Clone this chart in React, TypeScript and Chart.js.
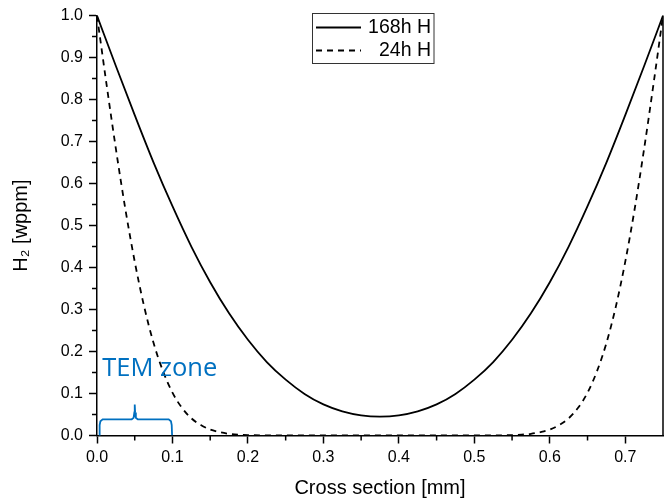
import React, { useEffect, useRef } from 'react';
import { Chart, registerables } from 'chart.js';

Chart.register(...registerables);

// ---- Data ----
const seriesLabels = ['168h H', '24h H'];

const solidX = [0, 0.025, 0.05, 0.075, 0.1, 0.125, 0.15, 0.175, 0.2, 0.225, 0.25, 0.275, 0.3, 0.325, 0.35, 0.375,
  0.4, 0.425, 0.45, 0.475, 0.5, 0.525, 0.55, 0.575, 0.6, 0.625, 0.65, 0.675, 0.7, 0.725, 0.75];
const solidY = [1.0, 0.880, 0.763, 0.650, 0.546, 0.450, 0.365, 0.291, 0.228, 0.175, 0.133, 0.099, 0.074, 0.0575, 0.048, 0.045,
  0.048, 0.0575, 0.074, 0.099, 0.133, 0.175, 0.228, 0.291, 0.365, 0.450, 0.546, 0.650, 0.763, 0.880, 1.0];

const dashX = [0, 0.0125, 0.025, 0.0375, 0.05, 0.0625, 0.075, 0.0875, 0.1, 0.1125, 0.125, 0.1375, 0.15, 0.1625, 0.175, 0.1875,
  0.2, 0.225, 0.25, 0.3, 0.375, 0.45, 0.5, 0.525, 0.55, 0.5625, 0.575, 0.5875, 0.6, 0.6125, 0.625, 0.6375, 0.65, 0.6625,
  0.675, 0.6875, 0.7, 0.7125, 0.725, 0.7375, 0.75];
const dashY = [1.0, 0.838, 0.683, 0.540, 0.414, 0.307, 0.220, 0.153, 0.102, 0.066, 0.041, 0.025, 0.014, 0.008, 0.004, 0.002,
  0.001, 0.0002, 0, 0, 0, 0, 0, 0.0002, 0.001, 0.002, 0.004, 0.008, 0.014, 0.025, 0.041, 0.066, 0.102, 0.153,
  0.220, 0.307, 0.414, 0.540, 0.683, 0.838, 1.0];

const annotationText = 'TEM zone';
const braceX = [0.003, 0.0035, 0.0045, 0.0075, 0.046, 0.0485, 0.0495, 0.05, 0.0505, 0.0515, 0.054, 0.095, 0.098, 0.099, 0.0995];
const braceY = [0, 0.025, 0.034, 0.0385, 0.0385, 0.042, 0.055, 0.074, 0.055, 0.042, 0.0385, 0.0385, 0.034, 0.025, 0];

const xMinorTicks = [0.05, 0.15, 0.25, 0.35, 0.45, 0.55, 0.65];
const yMinorTicks = [0.05, 0.15, 0.25, 0.35, 0.45, 0.55, 0.65, 0.75, 0.85, 0.95];

const xTitle = 'Cross section [mm]';
const yTitle = 'H\u2082 [wppm]';

const FONT = '"Liberation Sans", Arial, sans-serif';
const BLUE = '#0070C0';
const DASH = [6, 5];

const toPoints = (xs: number[], ys: number[]) => xs.map((x, i) => ({ x, y: ys[i] }));

const decorPlugin = {
  id: 'decor',
  afterDraw(chart: any) {
    const { ctx, chartArea, scales } = chart;
    const xs = scales.x;
    const ys = scales.y;
    ctx.save();
    // minor ticks
    ctx.strokeStyle = '#000';
    ctx.lineWidth = 1.5;
    ctx.beginPath();
    xMinorTicks.forEach((v) => {
      const px = xs.getPixelForValue(v);
      ctx.moveTo(px, chartArea.bottom);
      ctx.lineTo(px, chartArea.bottom + 5);
    });
    yMinorTicks.forEach((v) => {
      const py = ys.getPixelForValue(v);
      ctx.moveTo(chartArea.left, py);
      ctx.lineTo(chartArea.left - 5, py);
    });
    ctx.stroke();
    // right frame line
    ctx.beginPath();
    ctx.moveTo(chartArea.right, chartArea.top);
    ctx.lineTo(chartArea.right, chartArea.bottom);
    ctx.stroke();

    // annotation text
    ctx.fillStyle = BLUE;
    ctx.font = '25.5px "Open Sans", "Noto Sans", sans-serif';
    ctx.textAlign = 'left';
    ctx.textBaseline = 'alphabetic';
    ctx.fillText(annotationText, xs.getPixelForValue(0.007), ys.getPixelForValue(0.142));

    // legend
    const boxL = 312.5, boxT = 13.5, boxW = 121.5, boxH = 50;
    ctx.fillStyle = '#fff';
    ctx.fillRect(boxL, boxT, boxW, boxH);
    ctx.strokeStyle = '#333';
    ctx.lineWidth = 1;
    ctx.strokeRect(boxL, boxT, boxW, boxH);
    const rows = [27.5, 50.5];
    chart.data.datasets.forEach((ds: any, i: number) => {
      if (i > 1) return;
      const y = rows[i];
      ctx.beginPath();
      ctx.strokeStyle = '#000';
      ctx.lineWidth = 1.8;
      ctx.setLineDash(ds.borderDash || []);
      ctx.moveTo(316, y);
      ctx.lineTo(361, y);
      ctx.stroke();
      ctx.setLineDash([]);
      ctx.fillStyle = '#000';
      ctx.font = '19.5px ' + FONT;
      ctx.textAlign = 'right';
      ctx.textBaseline = 'middle';
      ctx.fillText(ds.label, 431, y + 0.5);
    });
    ctx.restore();
  },
};

export default function App() {
  const ref = useRef<HTMLCanvasElement | null>(null);
  useEffect(() => {
    if (!ref.current) return;
    const chart = new Chart(ref.current, {
      type: 'line',
      data: {
        datasets: [
          {
            label: seriesLabels[0],
            data: toPoints(solidX, solidY),
            borderColor: '#000',
            borderWidth: 1.8,
            pointRadius: 0,
            cubicInterpolationMode: 'monotone',
            fill: false,
          },
          {
            label: seriesLabels[1],
            data: toPoints(dashX, dashY),
            borderColor: '#000',
            borderWidth: 1.8,
            borderDash: DASH,
            pointRadius: 0,
            cubicInterpolationMode: 'monotone',
            fill: false,
          },
          {
            label: 'brace',
            data: toPoints(braceX, braceY),
            borderColor: BLUE,
            borderWidth: 1.8,
            pointRadius: 0,
            tension: 0,
            fill: false,
          },
        ],
      } as any,
      options: {
        animation: false,
        responsive: false,
        layout: { padding: { top: 15, right: 1, left: 0, bottom: 0 } },
        plugins: { legend: { display: false }, tooltip: { enabled: false } },
        scales: {
          x: {
            type: 'linear',
            min: 0,
            max: 0.75,
            afterFit: (s: any) => { s.height = 65.5; },
            ticks: {
              stepSize: 0.1,
              includeBounds: false,
              color: '#000',
              padding: 4,
              maxRotation: 0,
              font: { family: FONT, size: 16 },
              callback: (v: any) => Number(v).toFixed(1),
            },
            grid: { display: true, drawOnChartArea: false, drawTicks: true, tickLength: 8, tickColor: '#000', tickWidth: 1.5 },
            border: { display: true, color: '#000', width: 1.5 },
            title: { display: true, text: xTitle, color: '#000', font: { family: FONT, size: 20 }, padding: { top: 0, bottom: 1 } },
          },
          y: {
            type: 'linear',
            min: 0,
            max: 1,
            afterFit: (s: any) => { s.width = 97; },
            ticks: {
              stepSize: 0.1,
              color: '#000',
              padding: 6,
              font: { family: FONT, size: 16 },
              callback: (v: any) => Number(v).toFixed(1),
            },
            grid: { display: true, drawOnChartArea: false, drawTicks: true, tickLength: 8, tickColor: '#000', tickWidth: 1.5 },
            border: { display: true, color: '#000', width: 1.5 },
            title: { display: true, text: yTitle, color: '#000', font: { family: FONT, size: 20 }, padding: { top: 9, bottom: 0 } },
          },
        },
      } as any,
      plugins: [decorPlugin],
    });
    return () => chart.destroy();
  }, []);
  return (
    <div style={{ position: 'fixed', left: 0, top: 0, width: 664, height: 501, background: '#fff' }}>
      <canvas ref={ref} width={664} height={501} style={{ display: 'block' }} />
    </div>
  );
}
